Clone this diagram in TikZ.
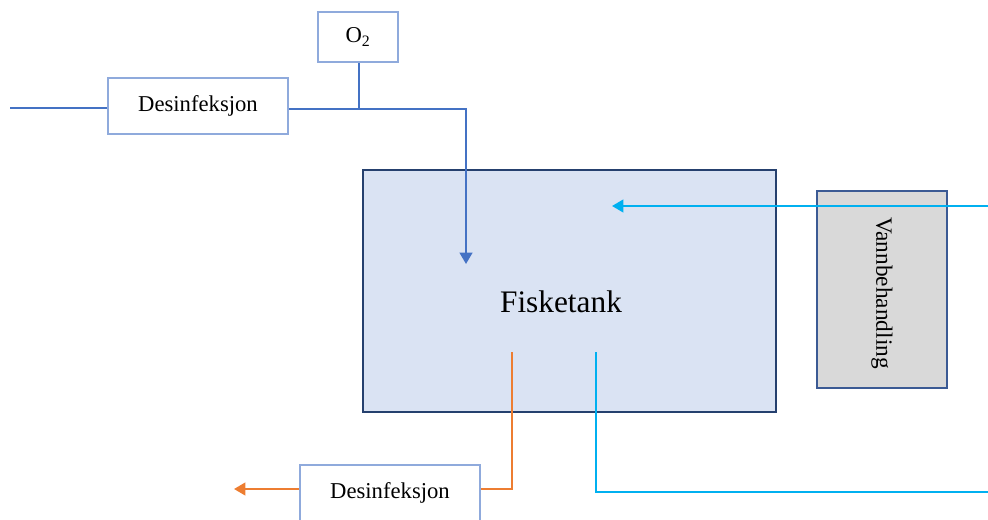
\documentclass[tikz,border=0pt]{standalone}
\usepackage{fontspec}
\setmainfont{Liberation Serif}
\usetikzlibrary{arrows.meta}
\definecolor{lineblue}{HTML}{4472C4}
\definecolor{boxblue}{HTML}{8FAADC}
\definecolor{cyanline}{HTML}{00B0F0}
\definecolor{orangeline}{HTML}{ED7D31}
\definecolor{tankfill}{HTML}{DAE3F3}
\definecolor{tankedge}{HTML}{25406E}
\definecolor{greyfill}{HTML}{D9D9D9}
\definecolor{greyedge}{HTML}{3B5A94}
\begin{document}
\begin{tikzpicture}[x=0.75pt,y=-0.75pt,
  procbox/.style={draw=boxblue,line width=1.5pt,fill=white,inner sep=0pt,
    font=\fontsize{17}{20}\selectfont},
  pipe/.style={line width=1.6pt},
  tip/.style={-{Triangle[length=8.5pt,width=9.5pt]}}]
\useasboundingbox (0,0) rectangle (988,520);

% fish tank and water treatment
\node[draw=tankedge,fill=tankfill,line width=1.5pt,minimum width=413*0.75pt,
  minimum height=242*0.75pt,inner sep=0pt] (tank) at (569.5,291) {};
\node[font=\fontsize{23.5}{28}\selectfont] (tanklbl) at (561,302) {Fisketank};
\node[draw=greyedge,fill=greyfill,line width=1.5pt,minimum width=130*0.75pt,
  minimum height=197*0.75pt,inner sep=0pt] (treat) at (882,289.5) {};
\node[rotate=-90,font=\fontsize{17.5}{20}\selectfont] (treatlbl) at (882,293) {Vannbehandling};

% inlet line with disinfection and oxygen
\node[procbox,minimum width=180*0.75pt,minimum height=56*0.75pt] (dis1) at (198,106) {Desinfeksjon};
\node[procbox,minimum width=80*0.75pt,minimum height=50*0.75pt] (o2) at (358,37) {O\textsubscript{2}};
\coordinate (inA) at (10,108);
\coordinate (jO2) at (359,109);
\coordinate (bend1) at (466,109);
\coordinate (tipIn) at (466,264);
\draw[pipe,lineblue] (inA) -- (dis1.west |- inA);
\draw[pipe,lineblue] (o2.south -| jO2) -- (jO2);
\draw[pipe,lineblue,tip] (dis1.east |- jO2) -- (jO2) -- (bend1) -- (tipIn);

% recirculation from water treatment
\coordinate (recIn) at (988,206);
\coordinate (recTip) at (612,206);
\draw[pipe,cyanline,tip] (recIn) -- (recTip);
\coordinate (recOut) at (596,352);
\coordinate (recBend) at (596,492);
\coordinate (recEnd) at (988,492);
\draw[pipe,cyanline] (recOut) -- (recBend) -- (recEnd);

% outlet line with disinfection
\node[procbox,minimum width=180*0.75pt,minimum height=56*0.75pt] (dis2) at (390,493) {Desinfeksjon};
\coordinate (outA) at (512,352);
\coordinate (outBend) at (512,489);
\coordinate (outTip) at (234,489);
\draw[pipe,orangeline] (outA) -- (outBend) -- (dis2.east |- outBend);
\draw[pipe,orangeline,tip] (dis2.west |- outBend) -- (outTip);
\end{tikzpicture}
\end{document}
